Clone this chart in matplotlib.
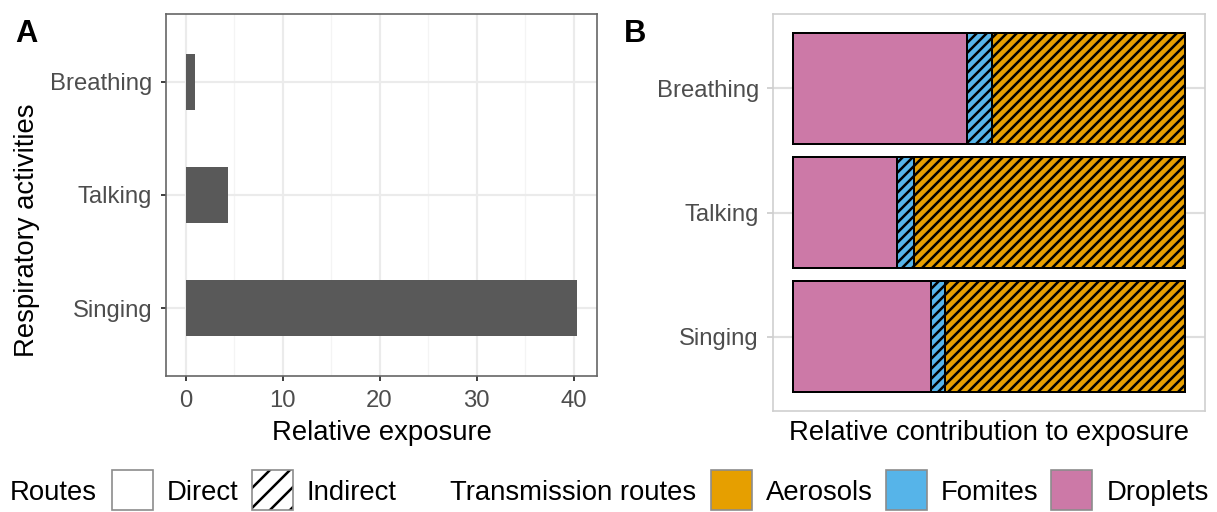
import numpy as np
import matplotlib
matplotlib.use('Agg')
import matplotlib.pyplot as plt
from matplotlib.patches import Rectangle

# data (bottom to top, as drawn)
activities = ['Singing', 'Talking', 'Breathing']
exposure = [40.4, 4.4, 1.0]
droplets = [0.353, 0.267, 0.444]
fomites = [0.034, 0.042, 0.063]
aerosols = [1 - d - f for d, f in zip(droplets, fomites)]

route_labels = ['Direct', 'Indirect']
trans_labels = ['Aerosols', 'Fomites', 'Droplets']
trans_colors = ['#E69F00', '#56B4E9', '#CC79A7']

W, H, DPI = 1217, 512, 120
plt.rcParams['font.family'] = ['Liberation Sans', 'DejaVu Sans']
plt.rcParams['hatch.linewidth'] = 1.5
plt.rcParams['hatch.color'] = 'black'

fig = plt.figure(figsize=(W / DPI, H / DPI), dpi=DPI)

def frac_box(left, top, right, bottom):
    return [left / W, 1 - bottom / H, (right - left) / W, (bottom - top) / H]

tick_fs = 14.3
title_fs = 16.5
label_grey = '#4D4D4D'
y = np.arange(len(activities))

# ---- panel A
axA = fig.add_axes(frac_box(166, 14, 597, 376))
axA.barh(y, exposure, height=0.5, color='#595959', zorder=3)
axA.set_xlim(-0.05 * max(exposure), 1.05 * max(exposure))
axA.set_ylim(-0.6, len(activities) - 0.4)
axA.set_yticks(y)
axA.set_yticklabels(activities)
axA.set_xticks([0, 10, 20, 30, 40])
axA.set_xticks([5, 15, 25, 35], minor=True)
axA.grid(True, which='major', color='#EBEBEB', lw=1.3, zorder=0)
axA.grid(True, which='minor', axis='x', color='#F4F4F4', lw=0.8, zorder=0)
axA.tick_params(which='major', length=3.2, width=1.1, color='#333333', labelcolor=label_grey,
                labelsize=tick_fs, pad=5)
axA.tick_params(which='minor', length=0)
for s in axA.spines.values():
    s.set_color('#666666')
    s.set_linewidth(1.0)
axA.set_axisbelow(True)

# ---- panel B
axB = fig.add_axes(frac_box(773, 14, 1205, 411))
left = np.zeros(len(activities))
for vals, col, hatch in [(droplets, '#CC79A7', None), (fomites, '#56B4E9', '////'), (aerosols, '#E69F00', '////')]:
    axB.barh(y, vals, left=left, height=0.9, color=col, edgecolor='black', lw=1.2, hatch=hatch, zorder=3)
    left = left + np.array(vals)
axB.set_xlim(-0.05, 1.05)
axB.set_ylim(-0.6, len(activities) - 0.4)
axB.set_yticks(y)
axB.set_yticklabels(activities)
axB.set_xticks([])
axB.grid(True, axis='y', color='#DEDEDE', lw=1.3, zorder=0)
axB.tick_params(axis='y', length=3.5, width=1.1, color='#D0D0D0', labelcolor=label_grey,
                labelsize=tick_fs, pad=5)
for s in axB.spines.values():
    s.set_color('#CFCFCF')
    s.set_linewidth(1.0)
axB.set_axisbelow(True)

# titles and panel letters
base_title = 1 - 440 / H
fig.text((166 + 597) / 2 / W, base_title, 'Relative exposure', ha='center', va='baseline', fontsize=title_fs)
fig.text((773 + 1205) / 2 / W, base_title, 'Relative contribution to exposure', ha='center', va='baseline',
         fontsize=title_fs)
fig.text(27 / W, 1 - 230 / H, 'Respiratory activities', rotation=90, ha='center', va='center', fontsize=title_fs)
fig.text(15 / W, 1 - 42 / H, 'A', fontweight='bold', fontsize=18.5, va='baseline')
fig.text(624 / W, 1 - 42 / H, 'B', fontweight='bold', fontsize=18.5, va='baseline')

# ---- legends along the bottom
renderer = fig.canvas.get_renderer()
base_leg = 1 - 500 / H
key_w, key_h, key_bot = 41, 40, 2

def add_key(x, face, hatch):
    if hatch:
        fig.add_artist(Rectangle((x / W, key_bot / H), key_w / W, key_h / H, transform=fig.transFigure,
                                 facecolor=face, edgecolor='black', lw=0, hatch=hatch))
        fig.add_artist(Rectangle((x / W, key_bot / H), key_w / W, key_h / H, transform=fig.transFigure,
                                 facecolor='none', edgecolor='#8C8C8C', lw=1.0))
    else:
        fig.add_artist(Rectangle((x / W, key_bot / H), key_w / W, key_h / H, transform=fig.transFigure,
                                 facecolor=face, edgecolor='#8C8C8C', lw=1.0))

def legend_row(x, title, labels, faces, hatches):
    t = fig.text(x / W, base_leg, title, va='baseline', fontsize=title_fs)
    x = t.get_window_extent(renderer).x1 + 15
    for lab, face, hatch in zip(labels, faces, hatches):
        add_key(x, face, hatch)
        x += key_w + 14
        t = fig.text(x / W, base_leg, lab, va='baseline', fontsize=title_fs)
        x = t.get_window_extent(renderer).x1 + 13
    return x

end = legend_row(10, 'Routes', route_labels, ['white', 'white'], [None, '//'])
legend_row(end + 40, 'Transmission routes', trans_labels, trans_colors, [None, None, None])

fig.savefig('out.png', dpi=DPI)
